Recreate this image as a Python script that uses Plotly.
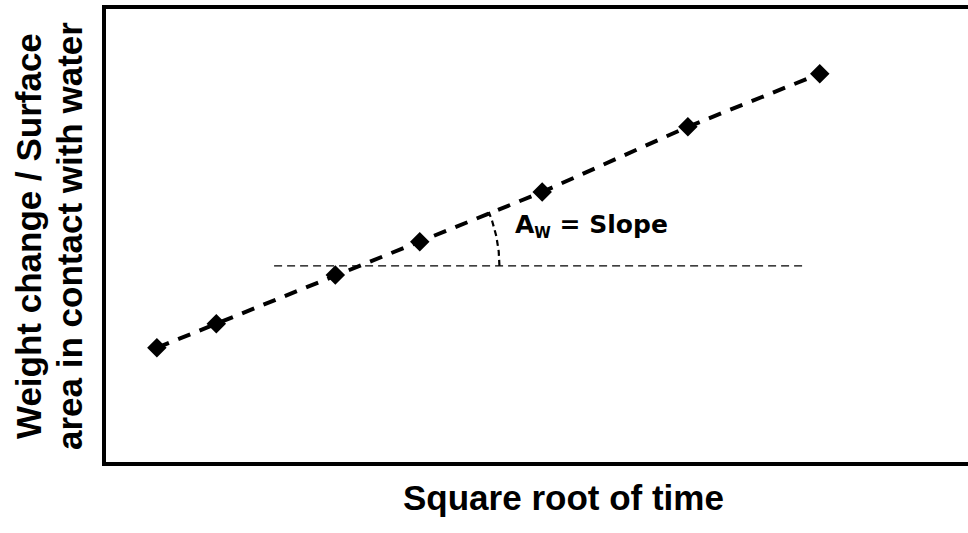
import numpy as np
import plotly.graph_objects as go

# Data (arbitrary units)
sqrt_time = [0.59, 1.28, 2.66, 3.64, 5.06, 6.75, 8.28]
weight_per_area = [2.52, 3.05, 4.13, 4.86, 5.96, 7.40, 8.57]

ref_level = 4.33
ref_x_start = 1.95
ref_x_end = 8.11

x_title = "Square root of time"
y_title_lines = ["Weight change / Surface", "area in contact with water"]
slope_label = "A<sub><span style='font-size:15px'>W</span></sub> = Slope"

W, H = 968, 533
ML, MR, MT, MB = 106, 0, 9, 71
pw, ph = W - ML - MR, H - MT - MB
xr, yr = [0, 10], [0, 10]
ppx = pw / (xr[1] - xr[0])
ppy = ph / (yr[1] - yr[0])

fig = go.Figure()

# horizontal reference line
fig.add_trace(go.Scatter(
    x=[ref_x_start, ref_x_end], y=[ref_level, ref_level], mode="lines",
    line=dict(color="black", width=1.2, dash="8px,5px"), showlegend=False, hoverinfo="skip"))

# data with dashed connecting line
fig.add_trace(go.Scatter(
    x=sqrt_time, y=weight_per_area, mode="lines+markers",
    line=dict(color="black", width=4, dash="13px,10px"),
    marker=dict(symbol="diamond", size=15, color="black"),
    showlegend=False))

# angle arc (computed from the data: intersection of segment with reference level)
xs, ys = np.array(sqrt_time), np.array(weight_per_area)
i = np.searchsorted(ys, ref_level) - 1
cx = xs[i] + (ref_level - ys[i]) / (ys[i + 1] - ys[i]) * (xs[i + 1] - xs[i])
slope_px = np.arctan2((ys[-1] - ys[0]) * ppy, (xs[-1] - xs[0]) * ppx)
r_px = 141
t = np.linspace(0, slope_px, 40)
ax_ = cx + r_px * np.cos(t) / ppx
ay_ = ref_level + r_px * np.sin(t) / ppy
fig.add_trace(go.Scatter(
    x=ax_, y=ay_, mode="lines", line=dict(color="black", width=2.2, dash="6px,4px"),
    showlegend=False, hoverinfo="skip"))

fig.add_annotation(
    x=4.72, y=5.21, xref="x", yref="y", text=slope_label, showarrow=False,
    xanchor="left", yanchor="middle",
    font=dict(family="DejaVu Sans", size=25, color="black", weight="bold"))

fig.add_annotation(
    x=(563 - ML) / pw, y=(MT + ph - 497) / ph, xref="paper", yref="paper",
    text=x_title, showarrow=False, xanchor="center", yanchor="middle",
    font=dict(family="Liberation Sans, Arial", size=35, color="black", weight="bold"))

for line_text, cx_px in zip(y_title_lines, [28, 69]):
    fig.add_annotation(
        x=(cx_px - ML) / pw, y=(MT + ph - 236) / ph, xref="paper", yref="paper",
        text=line_text, showarrow=False, xanchor="center", yanchor="middle", textangle=-90,
        font=dict(family="Liberation Sans, Arial", size=35, color="black", weight="bold"))

fig.update_layout(
    width=W, height=H, margin=dict(l=ML, r=MR, t=MT, b=MB),
    paper_bgcolor="white", plot_bgcolor="white",
    xaxis=dict(range=xr, showgrid=False, zeroline=False, showticklabels=False, ticks="",
               showline=True, linecolor="black", linewidth=4, mirror=True),
    yaxis=dict(range=yr, showgrid=False, zeroline=False, showticklabels=False, ticks="",
               showline=True, linecolor="black", linewidth=4, mirror=False),
)

fig.write_html("out.html")
